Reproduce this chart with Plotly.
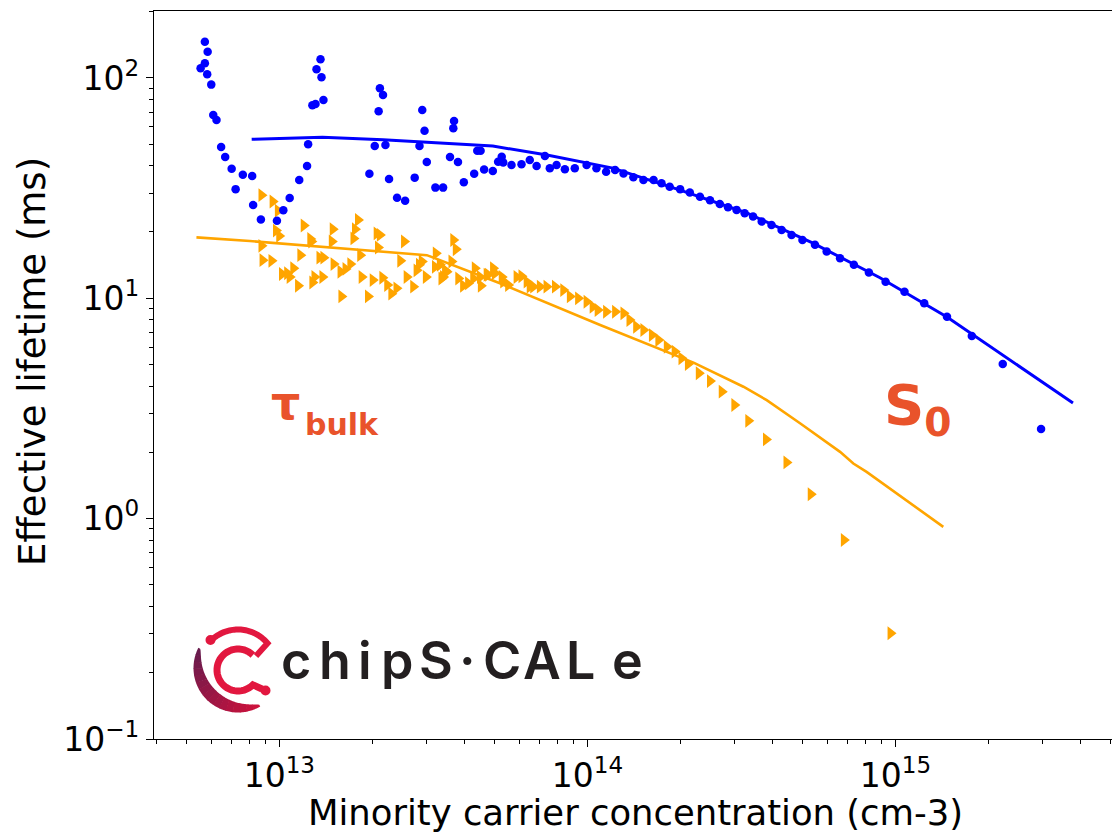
import numpy as np
import plotly.graph_objects as go

# ---------------- data ----------------
# S0 measured effective lifetime (blue dots)
s0_meas_x = [5.73e12, 5.85e12, 5.73e12, 5.55e12, 5.83e12, 6.01e12, 6.10e12, 6.25e12, 6.47e12, 6.67e12,
             7.00e12, 7.21e12, 7.61e12, 8.16e12, 8.22e12, 8.71e12, 9.82e12, 1.03e13, 1.08e13, 1.16e13,
             1.23e13, 1.24e13, 1.28e13, 1.31e13, 1.39e13, 1.32e13, 1.36e13, 1.37e13, 1.96e13, 2.04e13,
             2.21e13, 2.27e13, 2.41e13, 2.56e13, 2.12e13, 2.17e13, 2.10e13, 2.75e13, 2.85e13, 2.91e13,
             2.96e13, 3.01e13, 3.21e13, 3.40e13, 3.58e13, 3.80e13, 3.97e13, 3.69e13, 3.67e13, 4.29e13,
             4.39e13, 4.50e13, 4.62e13, 4.93e13, 5.13e13, 5.27e13, 5.33e13, 5.67e13, 6.11e13, 6.50e13,
             6.84e13, 7.28e13, 7.55e13, 7.94e13, 8.45e13, 9.10e13, 9.94e13, 1.07e14, 1.15e14, 1.23e14,
             1.31e14, 1.41e14, 1.52e14, 1.64e14, 1.74e14, 1.85e14, 2.00e14, 2.15e14, 2.32e14, 2.50e14,
             2.69e14, 2.86e14, 3.05e14, 3.24e14, 3.45e14, 3.68e14, 3.96e14, 4.27e14, 4.60e14, 4.99e14,
             5.48e14, 5.98e14, 6.61e14, 7.33e14, 8.20e14, 9.29e14, 1.07e15, 1.24e15, 1.47e15, 1.77e15,
             2.23e15, 2.97e15]
s0_meas_y = [146, 131.6, 116.6, 110.7, 104, 93.3, 67.9, 64.5, 48.6, 43.8,
             38.7, 31.3, 36.4, 35.9, 26.5, 22.8, 22.5, 25.1, 28.5, 34.4,
             39.9, 50.0, 75.2, 76.2, 79.5, 109.5, 121.6, 100.7, 36.8, 49.1,
             49.6, 34.8, 28.6, 27.7, 89.8, 83.7, 70.6, 35.3, 49.1, 71.6,
             57.6, 41.6, 31.8, 31.8, 43.8, 41.6, 33.6, 63.8, 59.1, 36.8,
             46.8, 46.8, 38.4, 37.8, 41.7, 43.9, 41.3, 40.3, 40.6, 42.4,
             39.9, 44.2, 38.9, 40.3, 38.5, 38.9, 40.3, 38.9, 37.5, 38.2,
             36.9, 35.4, 34.4, 34.4, 33.3, 32.1, 31.3, 30.2, 28.9, 27.9,
             26.8, 25.9, 25.2, 24.3, 23.5, 22.3, 21.5, 20.4, 19.4, 18.4,
             17.5, 16.3, 15.2, 14.2, 13.1, 11.9, 10.7, 9.49, 8.25, 6.74,
             5.03, 2.55]

# bulk measured lifetime (orange triangles)
bulk_meas_x = [8.75e12, 9.51e12, 9.89e12, 9.75e12, 9.99e12, 8.75e12, 8.82e12, 9.43e12, 1.02e13, 1.06e13,
               1.11e13, 1.08e13, 1.15e13, 1.20e13, 1.17e13, 1.26e13, 1.27e13, 1.28e13, 1.35e13, 1.39e13,
               1.30e13, 1.38e13, 1.49e13, 1.48e13, 1.50e13, 1.58e13, 1.64e13, 1.70e13, 1.59e13, 1.74e13,
               1.76e13, 1.80e13, 1.83e13, 1.85e13, 2.01e13, 2.07e13, 2.12e13, 2.09e13, 2.16e13, 2.24e13,
               2.31e13, 2.40e13, 1.94e13, 2.47e13, 2.54e13, 2.59e13, 2.72e13, 2.79e13, 2.84e13, 2.90e13,
               2.99e13, 3.22e13, 3.20e13, 3.40e13, 3.49e13, 3.67e13, 3.74e13, 3.62e13, 3.81e13, 3.95e13,
               4.10e13, 4.31e13, 4.26e13, 4.51e13, 4.71e13, 4.94e13, 3.32e13, 3.45e13, 3.36e13, 4.48e13,
               4.76e13, 5.01e13, 5.27e13, 5.53e13, 5.89e13, 6.11e13, 6.35e13, 6.67e13, 7.01e13, 7.37e13,
               7.85e13, 8.35e13, 8.77e13, 9.33e13, 9.94e13, 1.04e14, 1.08e14, 5.33e13, 6.50e13, 1.15e14,
               1.23e14, 1.31e14, 1.37e14, 1.44e14, 1.52e14, 1.62e14, 1.70e14, 1.81e14, 1.92e14, 2.02e14,
               2.12e14, 2.30e14, 2.50e14, 2.73e14, 3.00e14, 3.33e14, 3.80e14, 4.43e14, 5.31e14, 6.80e14,
               9.64e14]
bulk_meas_y = [29.4, 27.5, 25.0, 20.3, 19.2, 17.3, 14.9, 14.8, 12.9, 13.0,
               13.7, 12.5, 11.4, 21.4, 15.7, 18.6, 18.1, 11.8, 15.3, 15.3,
               12.5, 12.5, 20.6, 18.1, 14.3, 13.2, 13.6, 14.3, 10.2, 18.7,
               20.6, 22.7, 15.7, 12.5, 12.1, 19.7, 19.4, 17.0, 12.4, 11.5,
               10.5, 11.1, 10.2, 14.8, 18.1, 12.5, 11.3, 13.4, 14.2, 14.7,
               12.5, 16.0, 13.9, 12.5, 13.2, 18.4, 16.7, 14.7, 12.3, 11.4,
               11.7, 13.7, 12.3, 11.4, 12.8, 13.7, 14.2, 13.4, 12.3, 12.5,
               12.8, 13.0, 12.5, 11.5, 12.5, 12.6, 11.9, 11.3, 11.3, 11.3,
               11.3, 10.9, 10.2, 10.0, 9.65, 9.16, 8.85, 11.9, 11.3, 8.69,
               8.69, 8.55, 7.97, 7.43, 7.18, 6.81, 6.47, 6.03, 5.73, 5.34,
               5.03, 4.57, 4.21, 3.77, 3.28, 2.78, 2.29, 1.80, 1.29, 0.80,
               0.302]

# model curves
s0_fit_x = [8.13e12, 1.38e13, 2.17e13, 4.93e13, 7.39e13, 1.21e14, 2.00e14, 3.29e14, 5.40e14, 8.91e14,
            1.47e15, 3.77e15]
s0_fit_y = [52.7, 53.8, 52.4, 49.1, 44.7, 39.0, 31.0, 24.4, 17.8, 12.4, 8.22, 3.35]
bulk_fit_x = [5.38e12, 8.02e12, 3.01e13, 5.20e13, 1.10e14, 2.21e14, 3.21e14, 3.82e14, 4.90e14, 6.61e14,
              7.30e14, 8.06e14, 1.43e15]
bulk_fit_y = [18.9, 18.2, 15.7, 11.7, 7.57, 5.11, 3.97, 3.45, 2.71, 2.01,
              1.78, 1.63, 0.918]

x_tick_vals = [1e13, 1e14, 1e15]
x_tick_text = ["10<sup>13</sup>", "10<sup>14</sup>", "10<sup>15</sup>"]
y_tick_vals = [0.1, 1, 10, 100]
y_tick_text = ["10<sup>\u22121</sup>", "10<sup>0</sup>", "10<sup>1</sup>", "10<sup>2</sup>"]

x_minor = [k * 10.0 ** d for d in range(12, 16) for k in range(2, 10)]
y_minor = [k * 10.0 ** d for d in range(-1, 3) for k in range(2, 10)]

BLUE = "#0000FF"
ORANGE = "#FFA500"
LABEL_RED = "#E9532B"

# ---------------- figure ----------------
W, H = 1112, 832
ML, MR, MT, MB = 154, 0, 11, 93
PW, PH = W - ML - MR, H - MT - MB

fig = go.Figure()
fig.add_trace(go.Scatter(x=bulk_meas_x, y=bulk_meas_y, mode="markers",
                         marker=dict(symbol="triangle-right", size=12, color=ORANGE, line=dict(width=0))))
fig.add_trace(go.Scatter(x=s0_meas_x, y=s0_meas_y, mode="markers",
                         marker=dict(symbol="circle", size=8.5, color=BLUE, line=dict(width=0))))
fig.add_trace(go.Scatter(x=bulk_fit_x, y=bulk_fit_y, mode="lines", line=dict(color=ORANGE, width=2.6)))
fig.add_trace(go.Scatter(x=s0_fit_x, y=s0_fit_y, mode="lines", line=dict(color=BLUE, width=3)))

fig.update_layout(
    width=W, height=H,
    margin=dict(l=ML, r=MR, t=MT, b=MB, autoexpand=False),
    paper_bgcolor="white", plot_bgcolor="white",
    showlegend=False,
    font=dict(family="DejaVu Sans", color="black"),
)
axis_common = dict(type="log", ticks="outside", ticklen=7, tickwidth=1.2, tickcolor="black",
                   showline=True, linecolor="black", linewidth=1.2, showgrid=False, zeroline=False,
                   tickfont=dict(family="DejaVu Sans", size=33, color="black"))
fig.update_xaxes(range=[12.593, 15.703], tickvals=x_tick_vals, ticktext=x_tick_text, mirror=True,
                 minor=dict(tickvals=x_minor, ticks="outside", ticklen=4, tickwidth=1, tickcolor="black",
                            showgrid=False),
                 **axis_common)
fig.update_yaxes(range=[-1, 2.304], tickvals=y_tick_vals, ticktext=y_tick_text,
                 minor=dict(tickvals=y_minor, ticks="outside", ticklen=4, tickwidth=1, tickcolor="black",
                            showgrid=False),
                 **axis_common)


def pp(px, py):
    """pixel position in the figure -> paper coordinates"""
    return (px - ML) / PW, (H - MB - py) / PH


def text_at(txt, px, py, size, color="black", family="DejaVu Sans", weight="normal", angle=0,
            xanchor="center"):
    x, y = pp(px, py)
    fig.add_annotation(text=txt, x=x, y=y, xref="paper", yref="paper", showarrow=False,
                       xanchor=xanchor, yanchor="middle", textangle=angle,
                       font=dict(family=family, size=size, color=color, weight=weight))


# axis titles
text_at("Minority carrier concentration (cm-3)", 635, 812, 35.4)
text_at("Effective lifetime (ms)", 33, 362, 37, angle=-90)

# curve labels
text_at("\u03c4", 285, 403, 46, color=LABEL_RED, weight="bold")
text_at("bulk", 342, 424.5, 30, color=LABEL_RED, weight="bold")
text_at("S<sub>0</sub>", 918, 408, 56, color=LABEL_RED, weight="bold")

# logo word mark
logo_chars = ["c", "h", "i", "p", "S", "\u00b7", "C", "A", "L", "e"]
logo_cx = [296, 335, 365, 397, 436, 467, 502, 542, 580, 627]
for ch, cx in zip(logo_chars, logo_cx):
    text_at(ch, cx, 660, 52, color="#231F20", family="Inter, Lato, DejaVu Sans", weight=600)


# logo icon
def poly_path(points, close=False):
    s = "M " + " L ".join(f"{x:.5f},{y:.5f}" for x, y in (pp(a, b) for a, b in points))
    return s + (" Z" if close else "")


def arc_pts(cx, cy, r, a0, a1, n=40):
    t = np.radians(np.linspace(a0, a1, n))
    return list(zip(cx + r * np.cos(t), cy + r * np.sin(t)))


CX, CY = 238, 668
# outer gradient ring segment (tapered)
a0, a1 = 207.0, 60.0
nseg = 16
c0 = np.array([0x66, 0x1C, 0x4E])
c1 = np.array([0xD0, 0x12, 0x3C])
for i in range(nseg):
    sa = a0 + (a1 - a0) * i / nseg
    sb = a0 + (a1 - a0) * (i + 1) / nseg + (-0.8 if i < nseg - 1 else 0)
    ang = np.linspace(sa, sb, 8)
    frac = (ang - a0) / (a1 - a0)
    thick = 2 + 11 * np.sin(np.pi * frac) ** 0.7
    ro = np.full_like(ang, 44.5)
    ri = ro - thick
    outer = [(CX + r * np.cos(np.radians(a)), CY + r * np.sin(np.radians(a))) for a, r in zip(ang, ro)]
    inner = [(CX + r * np.cos(np.radians(a)), CY + r * np.sin(np.radians(a))) for a, r in zip(ang[::-1], ri[::-1])]
    col = c0 + (c1 - c0) * ((i + 0.5) / nseg)
    fig.add_shape(type="path", path=poly_path(outer + inner, close=True), xref="paper", yref="paper",
                  fillcolor="rgb(%d,%d,%d)" % tuple(col.astype(int)), line=dict(width=0), layer="above")

RED = "#E2173F"
# top trace
top = arc_pts(CX, CY, 38.5, 226, 320) + [(256, 656)]
fig.add_shape(type="path", path=poly_path(top), xref="paper", yref="paper",
              line=dict(color=RED, width=6), layer="above")
# inner C
inner_c = arc_pts(CX, CY + 2, 21, 315, 45) + [(262, 689)]
fig.add_shape(type="path", path=poly_path(inner_c), xref="paper", yref="paper",
              line=dict(color=RED, width=7), layer="above")
# end dots
for (dx, dy, r) in [(210.5, 640, 5), (265.5, 690.5, 5)]:
    x0, y0 = pp(dx - r, dy + r)
    x1, y1 = pp(dx + r, dy - r)
    fig.add_shape(type="circle", x0=x0, y0=y0, x1=x1, y1=y1, xref="paper", yref="paper",
                  fillcolor=RED, line=dict(width=0), layer="above")

fig.write_html("out.html")
